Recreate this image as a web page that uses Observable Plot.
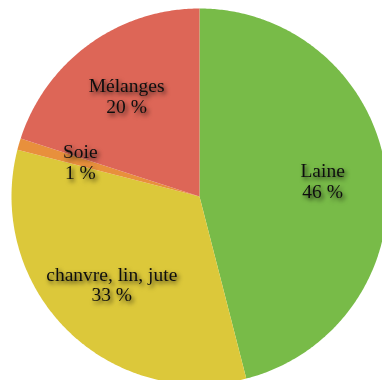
<!DOCTYPE html>
<html><head><meta charset="utf-8">
<script src="https://cdn.jsdelivr.net/npm/d3@7"></script>
<script src="https://cdn.jsdelivr.net/npm/@observablehq/plot@0.6"></script>
<style>html,body{margin:0;padding:0;background:#fff}
svg g[aria-label="text"] text, svg g[aria-label="text"] tspan{font-family:"Liberation Serif","Times New Roman",Tinos,"DejaVu Serif",serif !important;}</style>
</head><body><div id="chart"></div>
<script>
const categories = ["Laine", "chanvre, lin, jute", "Soie", "Mélanges"];
const values = [46, 33, 1, 20];
const colors = ["#78bb48", "#dcc83a", "#e8903c", "#dd6657"];

const total = d3.sum(values);
let acc = 0;
const slices = categories.map((c, i) => {
  const a0 = acc / total * 2 * Math.PI;
  acc += values[i];
  const a1 = acc / total * 2 * Math.PI;
  return {c, v: values[i], a0, a1, mid: (a0 + a1) / 2};
});
const pts = [];
slices.forEach(s => {
  pts.push({c: s.c, x: 0, y: 0});
  const n = Math.max(2, Math.ceil((s.a1 - s.a0) / 0.01));
  for (let k = 0; k <= n; k++) {
    const a = s.a0 + (s.a1 - s.a0) * k / n;
    pts.push({c: s.c, x: Math.sin(a), y: Math.cos(a)});
  }
  pts.push({c: s.c, x: 0, y: 0});
});
const labels = slices.map(s => `${s.c}\n${s.v} %`);

const W = 382, H = 380, cx = 199, cy = 196, R = 188;
const chart = Plot.plot({
  width: W, height: H,
  margin: 0,
  x: {domain: [-cx / R, (W - cx) / R], axis: null},
  y: {domain: [-(H - cy) / R, cy / R], axis: null},
  color: {domain: categories, range: colors},
  marks: [
    Plot.line(pts, {x: "x", y: "y", z: "c", fill: "c", stroke: null, curve: "linear"}),
    Plot.text(labels, {
      x: (d, i) => 0.66 * Math.sin(slices[i].mid),
      y: (d, i) => 0.66 * Math.cos(slices[i].mid),
      text: d => d,
      fontSize: 19.5,
      fontFamily: "Liberation Serif, Times New Roman, serif",
      lineHeight: 1.05,
      fill: "#111"
    })
  ]
});
const ns = "http://www.w3.org/2000/svg";
const defs = document.createElementNS(ns, "defs");
defs.innerHTML = '<filter id="sh" x="-20%" y="-40%" width="140%" height="180%"><feDropShadow dx="2" dy="2.5" stdDeviation="2" flood-color="#000" flood-opacity="0.75"/></filter>';
chart.appendChild(defs);
const textG = chart.querySelector('g[aria-label="text"]');
if (textG) textG.setAttribute("filter", "url(#sh)");
document.getElementById("chart").appendChild(chart);
</script>
</body></html>
